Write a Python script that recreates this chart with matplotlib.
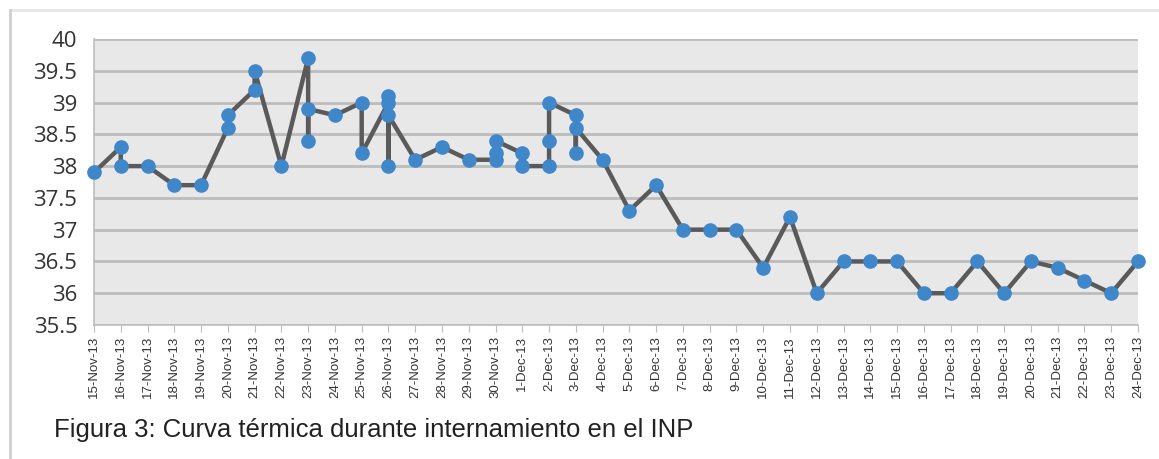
import matplotlib
matplotlib.use("Agg")
import matplotlib.pyplot as plt
import pandas as pd

# -----------------------
# DATA
# -----------------------
# one entry per reading; several readings on the same day share a date
dates = ["15-Nov-13", "16-Nov-13", "16-Nov-13", "17-Nov-13", "18-Nov-13", "19-Nov-13",
         "20-Nov-13", "20-Nov-13", "21-Nov-13", "21-Nov-13", "22-Nov-13",
         "23-Nov-13", "23-Nov-13", "23-Nov-13", "24-Nov-13", "25-Nov-13", "25-Nov-13",
         "26-Nov-13", "26-Nov-13", "26-Nov-13", "26-Nov-13", "27-Nov-13", "28-Nov-13",
         "29-Nov-13", "30-Nov-13", "30-Nov-13", "30-Nov-13", "1-Dec-13", "1-Dec-13",
         "2-Dec-13", "2-Dec-13", "2-Dec-13", "3-Dec-13", "3-Dec-13", "3-Dec-13",
         "4-Dec-13", "5-Dec-13", "6-Dec-13", "7-Dec-13", "8-Dec-13", "9-Dec-13",
         "10-Dec-13", "11-Dec-13", "12-Dec-13", "13-Dec-13", "14-Dec-13", "15-Dec-13",
         "16-Dec-13", "17-Dec-13", "18-Dec-13", "19-Dec-13", "20-Dec-13", "21-Dec-13",
         "22-Dec-13", "23-Dec-13", "24-Dec-13"]
temps = [37.9, 38.3, 38.0, 38.0, 37.7, 37.7,
         38.6, 38.8, 39.2, 39.5, 38.0,
         39.7, 38.4, 38.9, 38.8, 39.0, 38.2,
         39.0, 39.1, 38.0, 38.8, 38.1, 38.3,
         38.1, 38.1, 38.2, 38.4, 38.2, 38.0,
         38.0, 38.4, 39.0, 38.8, 38.2, 38.6,
         38.1, 37.3, 37.7, 37.0, 37.0, 37.0,
         36.4, 37.2, 36.0, 36.5, 36.5, 36.5,
         36.0, 36.0, 36.5, 36.0, 36.5, 36.4,
         36.2, 36.0, 36.5]
yticks = [35.5, 36, 36.5, 37, 37.5, 38, 38.5, 39, 39.5, 40]
ylabels = ["35.5", "36", "36.5", "37", "37.5", "38", "38.5", "39", "39.5", "40"]
caption = "Figura 3: Curva térmica durante internamiento en el INP"

df = pd.DataFrame({"date": pd.to_datetime(dates, format="%d-%b-%y"), "temp": temps})
start = pd.Timestamp("2013-11-15")
end = pd.Timestamp("2013-12-24")
df["day"] = (df["date"] - start).dt.days
all_days = pd.date_range(start, end, freq="D")
tick_labels = [f"{d.day}-{d.strftime('%b')}-13" for d in all_days]

# -----------------------
# PLOT
# -----------------------
fig = plt.figure(figsize=(11.59, 4.59), dpi=100)
ax = fig.add_axes([94 / 1159, 1 - 325 / 459, (1138 - 94) / 1159, (325 - 39) / 459])

ax.set_facecolor("#e8e8e8")
ax.plot(df["day"], df["temp"], color="#5a5a5a", lw=3.2, marker="o", ms=9.5,
        mfc="#3f87c9", mec="#3f87c9", zorder=3, clip_on=False)

ax.set_ylim(35.5, 40)
ax.set_xlim(0, len(all_days) - 1)
ax.set_yticks(yticks)
ax.set_yticklabels(ylabels, fontsize=16, color="#333333", family="Open Sans")
ax.set_xticks(range(len(all_days)))
ax.set_xticklabels(tick_labels, rotation=90, fontsize=9.5, color="#333333",
                   family="Liberation Sans")
ax.tick_params(axis="y", length=0, pad=12)
ax.tick_params(axis="x", length=5, color="#bdbdbd", pad=3)
ax.grid(axis="y", color="#bcbcbc", lw=2)
ax.set_axisbelow(True)
for s in ["top", "right"]:
    ax.spines[s].set_visible(False)
ax.spines["left"].set_color("#bdbdbd")
ax.spines["bottom"].set_color("#bdbdbd")
ax.spines["left"].set_linewidth(1.2)
ax.spines["bottom"].set_linewidth(1.2)

# outer frame of the figure box
fig.add_artist(plt.Line2D([10 / 1159, 1], [1 - 10 / 459, 1 - 10 / 459], color="#e6e6e6", lw=2))
fig.add_artist(plt.Line2D([10 / 1159, 10 / 1159], [0, 1 - 10 / 459], color="#d0d0d0", lw=2))

fig.text(54 / 1159, 1 - 430 / 459, caption, fontsize=18.5, color="#222222",
         family="Liberation Sans", va="center")

plt.savefig("out.png", dpi=100)
